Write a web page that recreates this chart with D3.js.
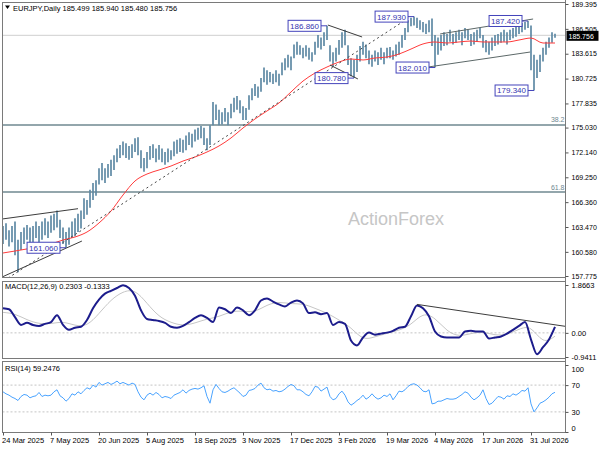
<!DOCTYPE html>
<html>
<head>
<meta charset="utf-8">
<script src="https://cdn.jsdelivr.net/npm/d3@7"></script>
<style>
body { margin: 0; background: #fff; }
text { font-family: "Liberation Sans", Arial, sans-serif; }
</style>
</head>
<body>
<div id="chart"></div>
<script>
"use strict";

/*** Data (one bar = two trading days) */
const highs = [163.6,163.9,163.1,163.6,164.1,162.0,162.9,163.4,163.7,163.4,
  163.6,164.1,163.6,164.1,164.5,164.1,164.8,165.0,165.4,164.3,
  163.4,162.9,163.4,164.1,164.5,165.0,165.4,166.8,166.6,167.8,
  168.6,168.9,170.3,170.9,170.3,170.8,171.3,171.8,172.6,173.0,
  173.4,173.2,172.9,173.1,173.8,173.9,172.4,171.5,172.2,172.9,
  173.1,172.6,173.0,172.6,172.2,172.6,172.4,173.4,173.6,173.8,
  173.6,174.1,174.5,174.3,174.8,175.0,175.2,175.0,173.8,175.3,
  178.0,177.7,177.1,176.8,177.3,176.8,177.8,178.5,178.7,178.2,
  177.5,177.3,178.8,179.6,180.1,179.8,180.8,182.0,181.7,181.5,
  181.3,181.7,181.3,182.6,183.1,183.5,183.3,184.7,185.0,184.6,
  184.3,184.6,184.3,183.8,185.0,185.8,185.5,186.1,186.86,184.6,
  183.8,184.3,185.2,186.1,186.4,184.6,183.1,182.9,183.5,184.5,
  185.0,184.7,184.0,183.5,184.0,183.8,184.3,183.8,184.3,184.4,
  184.0,184.7,185.0,185.8,186.6,187.5,187.8,187.93,187.8,187.5,
  187.3,187.1,187.5,187.7,185.8,185.5,185.8,186.1,185.9,186.4,
  185.9,186.1,186.4,186.1,186.6,186.4,185.9,186.1,186.4,186.6,
  185.8,185.2,185.0,185.5,185.8,185.9,186.1,186.4,186.1,186.4,
  186.6,186.8,187.1,187.2,187.3,187.42,186.9,183.5,182.9,183.5,
  184.3,185.0,185.5,186.1,185.94];

const lows = [161.5,162.0,161.2,161.7,160.2,158.2,160.8,161.5,162.0,161.4,
  161.7,162.2,161.6,162.0,162.5,162.2,162.8,163.1,163.4,162.2,
  161.5,161.06,161.4,162.2,162.4,162.9,163.3,164.4,164.9,165.7,
  166.6,167.1,168.4,168.9,168.6,169.2,169.4,170.1,171.0,171.5,
  171.8,171.5,171.3,171.5,172.2,171.8,170.3,169.9,170.3,171.3,
  171.5,171.0,171.3,171.0,170.7,171.0,171.3,171.7,172.0,172.2,
  172.1,172.4,173.0,172.7,173.4,173.6,173.8,173.0,172.4,173.0,
  175.3,175.9,175.3,175.4,175.7,175.3,176.1,176.8,177.1,176.7,
  175.9,175.9,177.1,178.2,178.7,178.5,179.2,180.3,180.0,180.3,
  180.1,180.3,179.9,181.1,181.7,182.0,181.7,183.1,183.5,183.5,
  183.1,183.3,182.9,182.7,183.5,184.3,184.1,184.5,185.2,182.7,
  182.1,182.7,183.5,184.3,184.6,182.3,181.0,180.78,181.5,182.7,
  183.5,183.1,182.4,182.1,182.7,182.3,182.9,182.4,183.1,183.1,
  182.9,183.3,183.5,184.3,185.2,186.1,186.8,186.9,186.6,186.4,
  186.1,185.9,186.1,184.5,182.01,183.5,184.0,184.5,184.6,185.0,
  184.7,184.9,185.2,184.6,185.4,185.2,184.5,184.7,185.0,185.4,
  184.3,183.8,183.5,184.0,184.5,184.7,184.9,185.0,184.7,185.2,
  185.4,185.6,185.9,186.1,186.4,186.6,181.7,179.34,180.8,181.5,
  182.7,183.5,184.3,184.9,185.48];

/* moving average, one value every 4 bars */
const maLine = [160.45,160.68,160.92,161.15,161.50,161.96,162.31,162.89,163.94,165.33,
  167.19,168.82,169.63,170.10,170.56,171.14,171.61,172.19,172.89,173.82,
  174.98,176.03,176.96,177.89,179.17,180.44,181.37,182.07,182.65,183.00,
  182.89,183.12,183.23,183.58,184.16,184.75,184.98,184.86,184.98,185.09,
  184.98,184.98,184.98,185.21,185.44,184.86,184.86];

/* MACD main, one value every 2 bars; signal every 4 bars */
const macdMain = [0.96,0.92,0.61,0.31,0.39,0.31,0.27,0.35,0.42,0.69,
  0.31,0.12,0.20,0.24,0.50,0.96,1.30,1.53,1.64,1.75,
  1.86,1.75,1.45,0.88,0.54,0.50,0.46,0.39,0.24,0.20,
  0.27,0.42,0.58,0.69,0.58,0.42,0.99,0.92,0.77,0.99,
  0.88,0.69,0.88,1.26,1.34,1.22,1.11,1.03,1.18,1.26,
  1.15,0.77,0.80,0.73,0.77,0.31,0.42,0.35,-0.30,-0.49,
  -0.18,0.01,-0.07,-0.03,0.01,0.08,0.20,0.24,0.65,1.07,
  0.96,0.65,0.05,-0.14,-0.18,-0.18,-0.18,0.05,0.08,0.05,
  0.05,-0.22,-0.18,-0.14,-0.03,0.12,0.27,0.42,-0.26,-0.83,
  -0.56,-0.26,0.23];
const macdSignal = [0.80,0.75,0.50,0.35,0.35,0.45,0.28,0.25,0.75,1.30,
  1.62,1.70,1.15,0.62,0.40,0.27,0.38,0.55,0.62,0.85,
  0.85,0.80,1.10,1.22,1.12,1.15,0.95,0.78,0.50,0.22,
  -0.30,-0.15,-0.02,0.10,0.30,0.80,0.60,0.05,-0.15,-0.02,
  0.05,-0.10,-0.08,0.15,0.30,-0.45,-0.13];

const rsi = [60,57,55,52,50,47,53,56,55,51,
  53,54,59,53,55,54,55,60,63,54,
  51,46,50,57,55,60,57,62,66,64,
  70,67,74,70,72,74,71,73,76,72,
  74,72,70,73,71,60,52,48,55,58,
  55,59,56,51,53,52,50,55,57,59,
  63,58,62,64,65,64,66,69,53,43,
  63,71,65,60,59,61,64,66,62,58,
  53,55,62,63,65,70,73,66,63,64,
  61,62,60,61,64,68,71,69,63,63,
  60,56,54,60,68,67,61,64,67,53,
  48,50,57,61,55,45,40,43,47,50,
  55,49,52,57,52,49,51,55,53,57,
  48,54,61,60,63,68,71,72,70,66,
  61,60,63,42,43,46,46,48,50,49,
  49,50,53,56,60,58,52,48,51,55,
  63,50,41,43,48,53,52,49,54,53,
  57,55,58,62,61,66,42,30,36,43,
  45,48,52,57,59.2476];

/* axes */
const priceTicks = [189.395,186.505,183.615,180.725,177.835,175.030,172.140,169.250,166.360,163.470,160.580,157.775];
const macdTicks = [1.8663, 0, -0.9411];
const macdTickLabels = ["1.8663", "0.00", "-0.9411"];
const rsiTicks = [100, 70, 30, 0];
const dateIdx = [0,16,32,48,64,80,96,112,128,144,160,176];
const dateLabels = ["24 Mar 2025","7 May 2025","20 Jun 2025","5 Aug 2025","18 Sep 2025","3 Nov 2025",
  "17 Dec 2025","3 Feb 2026","19 Mar 2026","4 May 2026","17 Jun 2026","31 Jul 2026"];

/* annotations: swing labels, fib levels, trend lines [idx, price] pairs */
const swingText = ["161.060","186.860","180.780","187.930","182.010","187.420","179.340"];
const swingIdx = [21,108,117,137,144,175,177];
const swingPrice = [161.06,186.86,180.78,187.93,182.01,187.42,179.34];
const fibNames = ["38.2","61.8"];
const fibPrices = [175.33,167.54];
const lastPrice = 185.756;
const trendSolid = [
  [[-0.3,164.40],[25,165.6]],
  [[-0.3,157.66],[26.3,161.84]],
  [[108.3,186.95],[119.7,185.56]],
  [[109,182.30],[118.3,180.68]]
];
const trendChannel = [
  [[145.7,185.91],[176.7,187.65]],
  [[141.7,182.07],[175.7,183.81]]
];
const trendDashed = [[1.7,157.54],[135.7,187.88]];
const macdTrend = [[138,1.11],[187.7,0.25]];

/*** Layout */
const w = 600;
const h = 450;
const left = 2.5, right = 565.5;
const mainTop = 2.5, mainBot = 277.5;
const macdTop = 281.5, macdBot = 358.5;
const rsiTop = 361.5, rsiBot = 432.5;

const svg = d3.select("#chart")
  .append("svg")
  .attr("width", w)
  .attr("height", h);

const x = d3.scaleLinear().domain([0, 188]).range([3, 567]);
const yP = d3.scaleLinear().domain([157.775, 189.395]).range([276, 4]);
const yM = d3.scaleLinear().domain([-0.9411, 1.8663]).range([357, 285]);
const yR = d3.scaleLinear().domain([0, 100]).range([432, 365]);

/* clips */
const defs = svg.append("defs");
[["clipMain", mainTop, mainBot], ["clipMacd", macdTop, macdBot], ["clipRsi", rsiTop, rsiBot]].forEach(c => {
  defs.append("clipPath").attr("id", c[0])
    .append("rect").attr("x", left).attr("y", c[1]).attr("width", right - left).attr("height", c[2] - c[1]);
});

/*** Main panel */
const main = svg.append("g").attr("clip-path", "url(#clipMain)");

// last price line
main.append("line")
  .attr("x1", left).attr("x2", right)
  .attr("y1", yP(lastPrice)).attr("y2", yP(lastPrice))
  .attr("stroke", "#cfcfcf").attr("stroke-width", 1);

// fib levels
main.selectAll(".fib")
  .data(fibPrices)
  .enter().append("line")
  .attr("x1", left).attr("x2", right)
  .attr("y1", d => yP(d)).attr("y2", d => yP(d))
  .attr("stroke", "#6f8890").attr("stroke-width", 1.4);

svg.selectAll(".fibLabel")
  .data(fibPrices)
  .enter().append("text")
  .attr("x", right - 1).attr("y", d => yP(d) - 2.5)
  .attr("text-anchor", "end")
  .attr("font-size", "7px").attr("fill", "#6f8890")
  .text((d, i) => fibNames[i]);

// watermark
svg.append("text")
  .attr("x", 396).attr("y", 225)
  .attr("text-anchor", "middle")
  .attr("font-size", "18px").attr("fill", "#c6c6c6")
  .text("ActionForex");

// price bars
main.selectAll(".bar")
  .data(highs)
  .enter().append("line")
  .attr("x1", (d, i) => x(i)).attr("x2", (d, i) => x(i))
  .attr("y1", d => yP(d))
  .attr("y2", (d, i) => yP(lows[i]))
  .attr("stroke", "#5f8aa5").attr("stroke-width", 1.7);

// moving average
main.append("path")
  .datum(maLine)
  .attr("fill", "none").attr("stroke", "#ff3b3b").attr("stroke-width", 1)
  .attr("d", d3.line().x((d, i) => x(i * 4)).y(d => yP(d)).curve(d3.curveMonotoneX));

// trend lines
const seg = d3.line().x(d => x(d[0])).y(d => yP(d[1]));
main.selectAll(".trend")
  .data(trendSolid)
  .enter().append("path")
  .attr("d", seg).attr("fill", "none")
  .attr("stroke", "#3c3c3c").attr("stroke-width", 1);
main.selectAll(".chan")
  .data(trendChannel)
  .enter().append("path")
  .attr("d", seg).attr("fill", "none")
  .attr("stroke", "#5c6868").attr("stroke-width", 1);
main.append("path")
  .attr("d", seg(trendDashed)).attr("fill", "none")
  .attr("stroke", "#444").attr("stroke-width", 1).attr("stroke-dasharray", "2,3");

// swing labels
const sw = svg.append("g");
swingText.forEach((t, i) => {
  const px = x(swingIdx[i]);
  const py = yP(swingPrice[i]);
  const g = sw.append("g");
  const txt = g.append("text")
    .attr("y", py + 3)
    .attr("font-size", "8px").attr("fill", "#3535b0")
    .text(t);
  const tw = txt.node().getComputedTextLength();
  const bx = px - 6 - tw - 4;
  txt.attr("x", bx + 2);
  g.insert("rect", "text")
    .attr("x", bx).attr("y", py - 5.5)
    .attr("width", tw + 4).attr("height", 11)
    .attr("fill", "#fff").attr("stroke", "#4444bb").attr("stroke-width", 1);
  g.append("line")
    .attr("x1", bx + tw + 4).attr("x2", px)
    .attr("y1", py).attr("y2", py)
    .attr("stroke", "#4444bb").attr("stroke-width", 1);
});

// title
svg.append("path").attr("d", "M5,5.5 L10,5.5 L7.5,9 Z").attr("fill", "#000");
svg.append("text")
  .attr("x", 13).attr("y", 10.5)
  .attr("font-size", "7.5px").attr("fill", "#000")
  .text("EURJPY,Daily  185.499 185.940 185.480 185.756");

/*** MACD panel */
const macd = svg.append("g").attr("clip-path", "url(#clipMacd)");
macd.append("line")
  .attr("x1", left).attr("x2", right)
  .attr("y1", yM(0)).attr("y2", yM(0))
  .attr("stroke", "#c4c4c4").attr("stroke-dasharray", "2,2");
macd.append("path")
  .datum(macdSignal)
  .attr("fill", "none").attr("stroke", "#c6c6c6").attr("stroke-width", 1)
  .attr("d", d3.line().x((d, i) => x(i * 4)).y(d => yM(d)).curve(d3.curveBasis));
macd.append("path")
  .datum(macdMain)
  .attr("fill", "none").attr("stroke", "#1c1c8c").attr("stroke-width", 2)
  .attr("d", d3.line().x((d, i) => x(i * 2)).y(d => yM(d)).curve(d3.curveMonotoneX));
macd.append("path")
  .attr("d", d3.line().x(d => x(d[0])).y(d => yM(d[1]))(macdTrend))
  .attr("fill", "none").attr("stroke", "#3c3c3c").attr("stroke-width", 1);
svg.append("text")
  .attr("x", 5).attr("y", 289)
  .attr("font-size", "7.5px").attr("fill", "#000")
  .text("MACD(12,26,9) 0.2303 -0.1333");

/*** RSI panel */
const rsiG = svg.append("g").attr("clip-path", "url(#clipRsi)");
rsiG.selectAll(".lvl")
  .data([70, 30])
  .enter().append("line")
  .attr("x1", left).attr("x2", right)
  .attr("y1", d => yR(d)).attr("y2", d => yR(d))
  .attr("stroke", "#c4c4c4").attr("stroke-dasharray", "2,2");
rsiG.append("path")
  .datum(rsi)
  .attr("fill", "none").attr("stroke", "#4aa3ff").attr("stroke-width", 1)
  .attr("d", d3.line().x((d, i) => x(i)).y(d => yR(d)));
svg.append("text")
  .attr("x", 5).attr("y", 370.5)
  .attr("font-size", "7.5px").attr("fill", "#000")
  .text("RSI(14) 59.2476");

/*** Frames */
[[mainTop, mainBot], [macdTop, macdBot], [rsiTop, rsiBot]].forEach(p => {
  svg.append("rect")
    .attr("x", left).attr("y", p[0])
    .attr("width", right - left).attr("height", p[1] - p[0])
    .attr("fill", "none").attr("stroke", "#7a7a7a").attr("stroke-width", 1);
});
svg.append("line")
  .attr("x1", right).attr("x2", right).attr("y1", 0).attr("y2", rsiBot)
  .attr("stroke", "#7a7a7a");

/*** Axes */
const styleAxis = g => {
  g.select(".domain").remove();
  g.selectAll(".tick line").attr("stroke", "#555");
  g.selectAll("text").attr("font-size", "7.5px").attr("fill", "#000")
    .attr("font-family", "Liberation Sans, Arial, sans-serif");
};

const priceAxis = svg.append("g")
  .attr("transform", `translate(${right},0)`)
  .call(d3.axisRight(yP).tickValues(priceTicks).tickFormat(d3.format(".3f")).tickSize(3).tickPadding(3))
  .call(styleAxis);
priceAxis.selectAll(".tick text").attr("font-size", "7px");

svg.append("g")
  .attr("transform", `translate(${right},0)`)
  .call(d3.axisRight(yM).tickValues(macdTicks).tickFormat((d, i) => macdTickLabels[i]).tickSize(3).tickPadding(3))
  .call(styleAxis);

const rsiAxis = svg.append("g")
  .attr("transform", `translate(${right},0)`)
  .call(d3.axisRight(yR).tickValues(rsiTicks).tickSize(3).tickPadding(3))
  .call(styleAxis);
rsiAxis.selectAll(".tick text").attr("dy", d => d === 100 ? "0.9em" : d === 0 ? "-0.2em" : "0.32em");

const dateAxis = svg.append("g")
  .attr("transform", `translate(0,${rsiBot})`)
  .call(d3.axisBottom(x).tickValues(dateIdx).tickFormat((d, i) => dateLabels[i]).tickSize(3).tickPadding(2))
  .call(styleAxis);
dateAxis.selectAll(".tick text").attr("text-anchor", "start").attr("dx", "-1.5");

/* last price box */
svg.append("rect")
  .attr("x", right + 1).attr("y", yP(lastPrice) - 4.5)
  .attr("width", 32).attr("height", 10)
  .attr("fill", "#000");
svg.append("text")
  .attr("x", right + 3).attr("y", yP(lastPrice) + 3.5)
  .attr("font-size", "7px").attr("fill", "#fff")
  .text(lastPrice.toFixed(3));
</script>
</body>
</html>
